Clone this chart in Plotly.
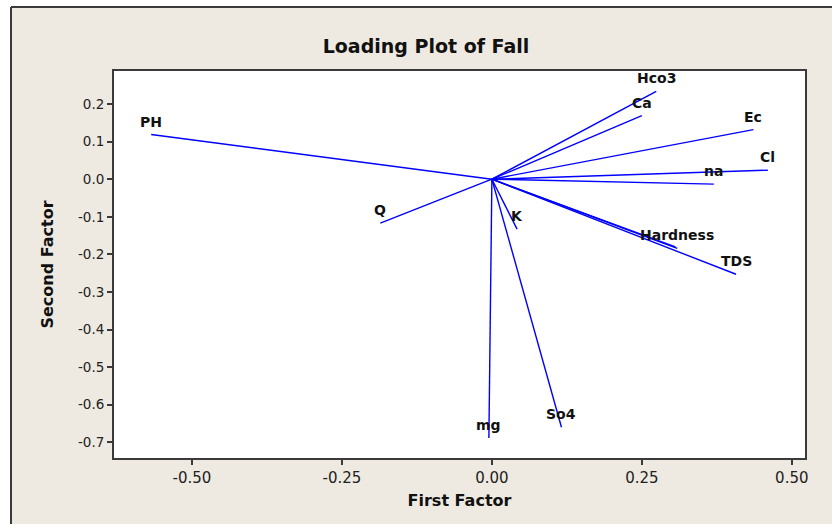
import plotly.graph_objects as go

# ---- data ----
variables = ["PH", "Q", "K", "mg", "So4", "Hco3", "Ca", "Ec", "Cl", "na", "Hardness", "", "TDS"]
first_factor = [-0.568, -0.186, 0.042, -0.005, 0.116, 0.274, 0.250, 0.436, 0.460, 0.370, 0.309, 0.306, 0.407]
second_factor = [0.119, -0.117, -0.133, -0.689, -0.660, 0.234, 0.169, 0.132, 0.024, -0.013, -0.184, -0.180, -0.253]

x_tickvals = [-0.50, -0.25, 0.00, 0.25, 0.50]
x_ticktext = ["-0.50", "-0.25", "0.00", "0.25", "0.50"]
y_tickvals = [0.2, 0.1, 0.0, -0.1, -0.2, -0.3, -0.4, -0.5, -0.6, -0.7]
y_ticktext = ["0.2", "0.1", "0.0", "-0.1", "-0.2", "-0.3", "-0.4", "-0.5", "-0.6", "-0.7"]

# ---- layout constants ----
W, H = 832, 524
ML, MR, MT, MB = 114, 27, 71, 66
BEIGE = "#EEEAE1"
FRAME = "#3a3a3a"
FONT = "DejaVu Sans"

fig = go.Figure()
for name, fx, fy in zip(variables, first_factor, second_factor):
    fig.add_trace(go.Scatter(x=[0, fx], y=[0, fy], mode="lines",
                             line=dict(color="#0000FF", width=1.4),
                             hoverinfo="skip", showlegend=False))
    if name:
        fig.add_annotation(x=fx, y=fy, xref="x", yref="y", text=name,
                           showarrow=False, yshift=13,
                           font=dict(family=FONT, size=14, color="#111", weight="bold"))

pw, ph = W - ML - MR, H - MT - MB
def px_to_paper_x(px):
    return (px - ML) / pw
def py_to_paper_y(py):
    return (H - MB - py) / ph

# white strips outside the outer frame, and the frame lines
fig.add_shape(type="rect", xref="paper", yref="paper",
              x0=px_to_paper_x(-5), x1=px_to_paper_x(11), y0=py_to_paper_y(540), y1=py_to_paper_y(-5),
              fillcolor="white", line=dict(width=0), layer="above")
fig.add_shape(type="rect", xref="paper", yref="paper",
              x0=px_to_paper_x(-5), x1=px_to_paper_x(840), y0=py_to_paper_y(7), y1=py_to_paper_y(-5),
              fillcolor="white", line=dict(width=0), layer="above")
fig.add_shape(type="line", xref="paper", yref="paper",
              x0=px_to_paper_x(11), x1=px_to_paper_x(11), y0=py_to_paper_y(540), y1=py_to_paper_y(7),
              line=dict(color=FRAME, width=2))
fig.add_shape(type="line", xref="paper", yref="paper",
              x0=px_to_paper_x(11), x1=px_to_paper_x(840), y0=py_to_paper_y(7), y1=py_to_paper_y(7),
              line=dict(color=FRAME, width=2))

axis_common = dict(showgrid=False, zeroline=False, showline=True, mirror=True,
                   linecolor=FRAME, linewidth=2, ticks="outside", ticklen=5,
                   tickwidth=1.5, tickcolor=FRAME)

fig.update_layout(
    width=W, height=H,
    margin=dict(l=ML, r=MR, t=MT, b=MB),
    paper_bgcolor=BEIGE, plot_bgcolor="white",
    title=dict(text="Loading Plot of Fall", x=426 / W, xanchor="center",
               y=1 - 46 / H, yanchor="middle", yref="container",
               font=dict(family=FONT, size=19, color="#111", weight="bold")),
    xaxis=dict(range=[-0.630, 0.522], tickvals=x_tickvals, ticktext=x_ticktext,
               tickfont=dict(family=FONT, size=15, color="#222"),
               title=dict(text="First Factor", standoff=9,
                          font=dict(family=FONT, size=16, color="#111", weight="bold")),
               **axis_common),
    yaxis=dict(range=[-0.742, 0.288], tickvals=y_tickvals, ticktext=y_ticktext,
               tickfont=dict(family=FONT, size=13.5, color="#222"),
               title=dict(text="Second Factor", standoff=20,
                          font=dict(family=FONT, size=16, color="#111", weight="bold")),
               **axis_common),
)

fig.write_html("out.html", config={"displayModeBar": False},
               post_script="document.body.style.margin='0';document.body.style.overflow='hidden';")
